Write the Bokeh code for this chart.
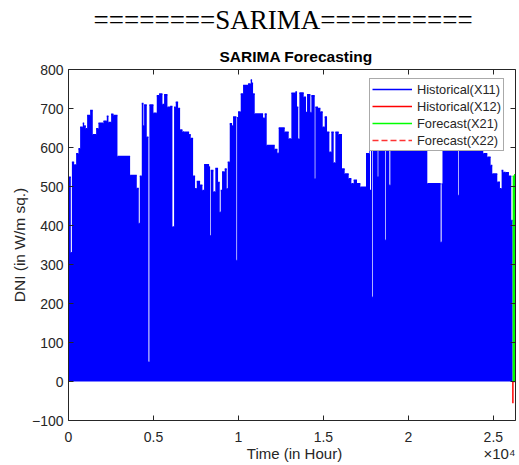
from bokeh.plotting import figure
from bokeh.models import (LinearAxis, FixedTicker, Title, Legend, LegendItem, Range1d)
from bokeh.embed import file_html
from bokeh.resources import INLINE

# ---------------- data ----------------
# Historical(X11): envelope of the hourly DNI series (segment start hour, peak W/m^2)
x11_start = [0, 135, 200, 331, 449, 586, 684, 841, 920, 1018, 1096, 1273, 1429, 1626, 1763,
             2057, 2253, 2351, 2508, 2645, 2881, 3625, 4018, 4135, 4194, 4312, 4410, 4449,
             4606, 4704, 4760, 4998, 5194, 5332, 5528, 5625, 5822, 5979, 6115, 6213, 6311,
             6449, 6567, 6704, 6802, 7096, 7194, 7332, 7449, 7547, 7743, 7880, 7978, 8273,
             8331, 8371, 8528, 8640, 8801, 8899, 8958, 9035, 9194, 9311, 9370, 9488, 9625,
             9684, 9880, 9920, 9978, 10135, 10273, 10567, 10723, 10802, 10861, 10959, 11449,
             11547, 11664, 12135, 12292, 12370, 12723, 12958, 13115, 13351, 13449, 13520,
             13586, 13841, 13978, 14037, 14233, 14292, 14488, 14527, 14684, 14822, 14959,
             15076, 15214, 15351, 15468, 15606, 15704, 15900, 16096, 16253, 16488, 16645,
             16782, 16978, 17174, 17507, 17703, 17742, 17801, 17860, 17900, 18193, 18232,
             18624, 18664, 18880, 18938, 19500, 20200, 21115, 21899, 21958, 22007, 22879,
             22938, 22978, 23859, 24408, 24644, 24840, 24938, 25232, 25389, 25487, 25585,
             25722, 25918, 26056]
x11_peak = [524, 330, 562, 555, 584, 597, 652, 662, 655, 648, 682, 695, 633, 648, 662,
            667, 680, 664, 685, 682, 577, 528, 495, 405, 526, 713, 656, 709,
            626, 50, 709, 688, 733, 737, 710, 735, 703, 705, 396, 703, 716,
            700, 645, 640, 639, 633, 623, 526, 494, 513, 503, 490, 556, 550,
            374, 541, 486, 546, 510, 434, 490, 537, 545, 494, 562, 661, 655,
            678, 310, 676, 691, 737, 759, 763, 773, 765, 737, 686, 675,
            686, 605, 595, 585, 650, 639, 622, 739, 742, 703, 622,
            740, 729, 690, 735, 690, 733, 520, 703, 700, 691, 652,
            678, 639, 588, 639, 560, 639, 633, 545, 532, 520, 507,
            516, 507, 498, 584, 660, 490, 670, 216, 680, 525, 690,
            362, 685, 503, 680, 690, 670, 507, 357, 507, 660, 680,
            477, 680, 640, 584, 575, 554, 532, 511, 494, 541, 536,
            535, 526, 413]
x11_end = 26136

# Historical(X12)
x12_hour = [26150, 26150]
x12_value = [0, -56]

# Forecast(X21): envelope of the forecast
x21_start = [26136, 26220]
x21_peak = [526, 530]
x21_end = 26304

# Forecast(X22)
x22_hour = [26136, 26304]
x22_value = [0, 0]

x_ticks = [0, 5000, 10000, 15000, 20000, 25000]
x_tick_labels = ["0", "0.5", "1", "1.5", "2", "2.5"]
y_ticks = [-100, 0, 100, 200, 300, 400, 500, 600, 700, 800]
x_max = 26304
x_label = "Time (in Hour)"
x_exponent = "×10⁴"


def steps(starts, end, peaks):
    xs, ys = [], []
    ends = starts[1:] + [end]
    for s, e, v in zip(starts, ends, peaks):
        xs += [s, e]
        ys += [v, v]
    return xs, ys


# ---------------- figure ----------------
TXT = "#262626"
FONT = "Liberation Sans"

p = figure(width=518, height=464, x_range=Range1d(0, x_max), y_range=Range1d(-100, 800),
           output_backend="svg", toolbar_location=None, title=None,
           min_border_left=68, min_border_right=3, min_border_top=69, min_border_bottom=44)
p.grid.visible = False
p.outline_line_color = None
p.background_fill_color = "white"
p.border_fill_color = "white"


def style(ax, labels=True):
    ax.axis_line_color = TXT
    ax.axis_line_width = 1
    ax.major_tick_line_color = TXT
    ax.major_tick_in = 5
    ax.major_tick_out = 0
    ax.minor_tick_line_color = None
    ax.major_label_text_font = FONT
    ax.major_label_text_color = TXT
    if labels:
        ax.major_label_text_font_size = "14px"
    else:
        ax.major_label_text_font_size = "0px"
        ax.major_label_text_color = None
        ax.major_label_standoff = 0
        ax.axis_label_standoff = 0


xa = p.xaxis[0]
xa.ticker = FixedTicker(ticks=x_ticks)
xa.major_label_overrides = dict(zip(x_ticks, x_tick_labels))
style(xa)
xa.major_label_standoff = 11

ya = p.yaxis[0]
ya.ticker = FixedTicker(ticks=y_ticks)
style(ya)
ya.major_label_standoff = 5
ya.axis_label = "DNI (in W/m sq.)"
ya.axis_label_text_font = FONT
ya.axis_label_text_font_size = "15.5px"
ya.axis_label_text_font_style = "normal"
ya.axis_label_text_color = TXT
ya.axis_label_standoff = 1

# second row under the x axis: axis title and the ×10^4 multiplier
lab_pos = [x_max * 0.5056, x_max * 0.964]
lab = LinearAxis(ticker=FixedTicker(ticks=lab_pos),
                 major_label_overrides={lab_pos[0]: x_label, lab_pos[1]: x_exponent})
lab.axis_line_color = None
lab.major_tick_line_color = None
lab.minor_tick_line_color = None
lab.major_tick_in = 0
lab.major_tick_out = 0
lab.major_label_standoff = 0
lab.major_label_text_font = FONT
lab.major_label_text_font_size = "15px"
lab.major_label_text_color = TXT
p.add_layout(lab, "below")

top = LinearAxis(ticker=FixedTicker(ticks=x_ticks))
style(top, labels=False)
p.add_layout(top, "above")
right = LinearAxis(ticker=FixedTicker(ticks=y_ticks))
style(right, labels=False)
p.add_layout(right, "right")

sub = Title(text="SARIMA Forecasting", align="left", offset=151, text_font=FONT,
            text_font_size="15.5px", text_font_style="bold", text_color="black", standoff=9)
p.add_layout(sub, "above")
big = Title(text="========SARIMA==========", align="left", offset=25,
            text_font="Liberation Serif", text_font_size="27px", text_font_style="normal",
            text_color="black", vertical_align="top", standoff=9)
p.add_layout(big, "above")

# ---------------- glyphs ----------------
blue = "#0000ff"
green = "#00ff00"
red = "#ff0000"

r22 = p.line(x=x22_hour, y=x22_value, line_color="#ff3333", line_width=1.5, line_dash="6 3")

bx, by = steps(x11_start, x11_end, x11_peak)
p.varea(x=bx, y1=[0] * len(by), y2=by, fill_color=blue)
r11 = p.segment(x0=x11_start, x1=x11_start[1:] + [x11_end], y0=x11_peak, y1=x11_peak,
                line_color=blue, line_width=1.5)

gx, gy = steps(x21_start, x21_end, x21_peak)
p.varea(x=gx, y1=[0] * len(gy), y2=gy, fill_color=green)
r21 = p.segment(x0=x21_start, x1=x21_start[1:] + [x21_end], y0=x21_peak, y1=x21_peak,
                line_color=green, line_width=1.5)

r12 = p.line(x=x12_hour, y=x12_value, line_color=red, line_width=1.5)

legend = Legend(items=[LegendItem(label="Historical(X11)", renderers=[r11]),
                       LegendItem(label="Historical(X12)", renderers=[r12]),
                       LegendItem(label="Forecast(X21)", renderers=[r21]),
                       LegendItem(label="Forecast(X22)", renderers=[r22])],
                location=(301, 269))
legend.label_text_font = FONT
legend.label_text_font_size = "12.8px"
legend.label_text_color = TXT
legend.glyph_width = 40
legend.glyph_height = 16
legend.label_height = 16
legend.spacing = 1
legend.padding = 2
legend.margin = 0
legend.label_standoff = 5
legend.border_line_color = "#555555"
legend.border_line_width = 1
legend.background_fill_color = "white"
legend.background_fill_alpha = 1
p.add_layout(legend, "center")

open("out.html", "w").write(file_html(p, INLINE))
